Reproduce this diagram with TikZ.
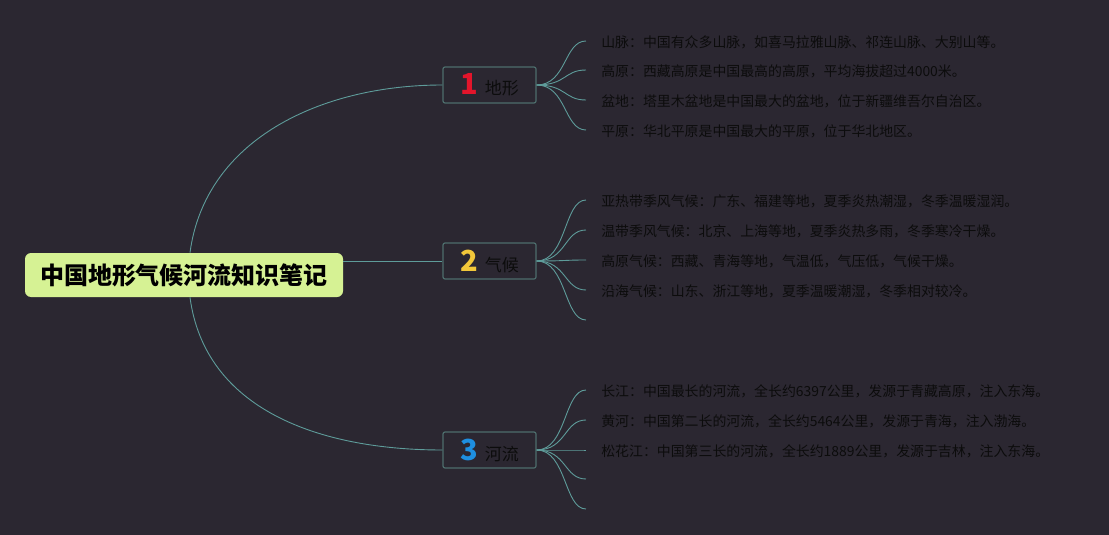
\documentclass[tikz,border=0pt]{standalone}
\usepackage{fontspec}
\setmainfont{Noto Sans CJK SC}
\usepackage{tikz}

\definecolor{bgdark}{HTML}{2B2731}
\definecolor{rootfill}{HTML}{D6F294}
\definecolor{linkteal}{HTML}{5E9C9A}
\definecolor{boxline}{HTML}{4D6D6C}
\definecolor{leafink}{HTML}{0C0C0C}
\definecolor{numred}{HTML}{E3152B}
\definecolor{numyellow}{HTML}{F2C73A}
\definecolor{numblue}{HTML}{1E8FE0}

\newcommand{\topicnum}[2]{{\fontsize{29}{29}\selectfont\bfseries\color{#1}#2}\hspace{7pt}}

\begin{document}
\begin{tikzpicture}[
            x = 1pt, y = -1pt, % pixel grid, y downwards
            link/.style = {draw = linkteal, line width = 0.9pt},
            semithick % line style
        ]

        \tikzstyle{root}=[
            fill = rootfill,
            rounded corners = 6pt,
            minimum width = 318pt,
            minimum height = 44pt,
            font = \fontsize{24}{24}\selectfont\bfseries,
            text = black
        ]
        \tikzstyle{branch}=[
            draw = boxline,
            line width = 1.2pt,
            fill = bgdark,
            rounded corners = 2pt,
            minimum width = 93pt,
            minimum height = 36pt,
            font = \fontsize{17}{17}\selectfont,
            text = leafink
        ]
        \tikzstyle{leaf}=[
            anchor = west,
            inner xsep = 15pt,
            inner ysep = 0pt,
            text height = 15pt,
            text depth = 2pt,
            font = \fontsize{13.9}{15}\selectfont,
            text = leafink
        ]

        % canvas
        \fill[bgdark] (0,0) rectangle (1109,535);
        \useasboundingbox (0,0) rectangle (1109,535);

        \node[root] (root) at (184,275) {中国地形气候河流知识笔记};

        \node[branch] (land) at (489.5,85) {\topicnum{numred}{1}地形};
        \node[branch] (clim) at (489.5,261) {\topicnum{numyellow}{2}气候};
        \node[branch] (river) at (489.5,450) {\topicnum{numblue}{3}河流};

        % topic leaves
        \node[leaf] (l1) at (586,41) {山脉：中国有众多山脉，如喜马拉雅山脉、祁连山脉、大别山等。};
        \node[leaf] (l2) at (586,70) {高原：西藏高原是中国最高的高原，平均海拔超过4000米。};
        \node[leaf] (l3) at (586,100) {盆地：塔里木盆地是中国最大的盆地，位于新疆维吾尔自治区。};
        \node[leaf] (l4) at (586,130) {平原：华北平原是中国最大的平原，位于华北地区。};

        \node[leaf] (c1) at (586,200) {亚热带季风气候：广东、福建等地，夏季炎热潮湿，冬季温暖湿润。};
        \node[leaf] (c2) at (586,230) {温带季风气候：北京、上海等地，夏季炎热多雨，冬季寒冷干燥。};
        \node[leaf] (c3) at (586,260) {高原气候：西藏、青海等地，气温低，气压低，气候干燥。};
        \node[leaf] (c4) at (586,290) {沿海气候：山东、浙江等地，夏季温暖潮湿，冬季相对较冷。};
        \coordinate (c5) at (586,320);

        \node[leaf] (r1) at (586,390) {长江：中国最长的河流，全长约6397公里，发源于青藏高原，注入东海。};
        \node[leaf] (r2) at (586,420) {黄河：中国第二长的河流，全长约5464公里，发源于青海，注入渤海。};
        \node[leaf] (r3) at (586,450) {松花江：中国第三长的河流，全长约1889公里，发源于吉林，注入东海。};
        \coordinate (r4) at (586,479);
        \coordinate (r5) at (586,509);

        % main branches
        \draw[link] ([xshift=6pt]root.north) .. controls (205,140) and (320,85) .. (land.west);
        \draw[link] (root.east |- clim) -- (clim.west);
        \draw[link] ([xshift=6pt]root.south) .. controls (205,410) and (320,450) .. (river.west);

        % fans
        \foreach \t in {l1,l2,l3,l4}
            \draw[link] (land.east) .. controls +(30,0) and +(-22,0) .. (\t.west);
        \foreach \t in {c1,c2,c3,c4}
            \draw[link] (clim.east) .. controls +(30,0) and +(-22,0) .. (\t.west);
        \draw[link] (clim.east) .. controls +(30,0) and +(-22,0) .. (c5);
        \foreach \t in {r1,r2,r3}
            \draw[link] (river.east) .. controls +(30,0) and +(-22,0) .. (\t.west);
        \foreach \t in {r4,r5}
            \draw[link] (river.east) .. controls +(30,0) and +(-22,0) .. (\t);

  \end{tikzpicture}
\end{document}
